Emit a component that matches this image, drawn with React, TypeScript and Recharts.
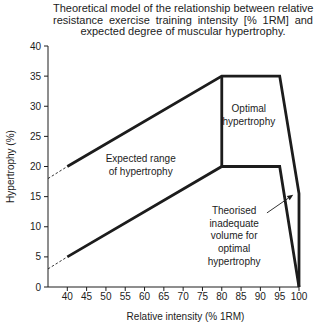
import React from 'react';
import { LineChart, Line, XAxis, YAxis, ReferenceLine, ReferenceDot } from 'recharts';

// relative intensity (% 1RM) / hypertrophy (%)
const lowerDashX = [35, 40];
const lowerDashY = [3, 5];
const lowerX = [40, 80, 95, 100];
const lowerY = [5, 20, 20, 0];
const upperDashX = [35, 40];
const upperDashY = [18, 20];
const upperX = [40, 80, 95, 100, 100];
const upperY = [20, 35, 35, 15.5, 0];
const dividerX = [80, 80];
const dividerY = [20, 35];

const xTicks = [40, 45, 50, 55, 60, 65, 70, 75, 80, 85, 90, 95, 100];
const yTicks = [0, 5, 10, 15, 20, 25, 30, 35, 40];

const titleLines = [
  'Theoretical model of the relationship between relative',
  'resistance exercise training intensity [% 1RM] and',
  'expected degree of muscular hypertrophy.',
];

const noteX = [59, 87, 83.2];
const noteY = [20.2, 28.6, 8.5];
const noteText = [
  ['Expected range', 'of hypertrophy'],
  ['Optimal', 'hypertrophy'],
  ['Theorised', 'inadequate', 'volume for', 'optimal', 'hypertrophy'],
];

const arrowX = [91.7, 98.5];
const arrowY = [12.3, 15.3];

const FONT = "'Liberation Sans', Arial, sans-serif";
const INK = '#1c1c1c';

const toPoints = (xs: number[], ys: number[]) => xs.map((x, i) => ({ x, y: ys[i] }));

const NoteLabel = ({ viewBox, lines }: any) => {
  const cx = viewBox.x;
  const cy = viewBox.y;
  const lh = 12.7;
  return (
    <g>
      {lines.map((t: string, i: number) => (
        <text
          key={i}
          x={cx}
          y={cy + (i - (lines.length - 1) / 2) * lh}
          textAnchor="middle"
          dominantBaseline="central"
          fontSize={10}
          fontFamily={FONT}
          fill={INK}
        >
          {t}
        </text>
      ))}
    </g>
  );
};

const ArrowShape = (props: any) => {
  const { x1, y1, x2, y2 } = props;
  const ang = Math.atan2(y2 - y1, x2 - x1);
  const len = 6;
  const w = 2.6;
  const bx = x2 - len * Math.cos(ang);
  const by = y2 - len * Math.sin(ang);
  const p1 = `${bx + w * Math.sin(ang)},${by - w * Math.cos(ang)}`;
  const p2 = `${bx - w * Math.sin(ang)},${by + w * Math.cos(ang)}`;
  return (
    <g>
      <line x1={x1} y1={y1} x2={bx} y2={by} stroke={INK} strokeWidth={0.9} />
      <polygon points={`${x2},${y2} ${p1} ${p2}`} fill={INK} />
    </g>
  );
};

const series = [
  { key: 'lowerDash', data: toPoints(lowerDashX, lowerDashY), dash: '2.5 2', width: 0.9 },
  { key: 'upperDash', data: toPoints(upperDashX, upperDashY), dash: '2.5 2', width: 0.9 },
  { key: 'lower', data: toPoints(lowerX, lowerY), dash: undefined, width: 2.8 },
  { key: 'upper', data: toPoints(upperX, upperY), dash: undefined, width: 2.8 },
  { key: 'divider', data: toPoints(dividerX, dividerY), dash: undefined, width: 2.8 },
];

const App: React.FC = () => {
  return (
    <div style={{ position: 'absolute', left: 0, top: 0, width: 324, height: 335, background: '#fff', fontFamily: FONT }}>
      <div style={{ position: 'absolute', left: 53, top: 3, width: 260, fontSize: 11, lineHeight: '11.6px', color: INK }}>
        {titleLines.map((t, i) => (
          <div key={i} style={{ whiteSpace: 'nowrap', textAlign: i < 2 ? 'justify' : 'center', textAlignLast: i < 2 ? 'justify' : 'center' } as any}>
            {t}
          </div>
        ))}
      </div>
      <LineChart width={324} height={335} margin={{ top: 46, right: 25, left: 0, bottom: 18 }}>
        <XAxis
          type="number"
          dataKey="x"
          domain={[35, 100]}
          ticks={xTicks}
          interval={0}
          height={30}
          tickSize={4}
          tickMargin={2}
          stroke={INK}
          tick={{ fill: INK, fontSize: 10, fontFamily: FONT }}
          label={{ value: 'Relative intensity (% 1RM)', position: 'insideBottom', offset: -3, dx: 12, fill: INK, fontSize: 10, fontFamily: FONT }}
        />
        <YAxis
          type="number"
          domain={[0, 40]}
          ticks={yTicks}
          interval={0}
          width={48}
          tickSize={4}
          tickMargin={3}
          stroke={INK}
          tick={{ fill: INK, fontSize: 10, fontFamily: FONT }}
          label={{ value: 'Hypertrophy (%)', angle: -90, position: 'insideLeft', offset: 10, fill: INK, fontSize: 10, fontFamily: FONT, style: { textAnchor: 'middle' } }}
        />
        {series.map((s) => (
          <Line
            key={s.key}
            data={s.data}
            dataKey="y"
            type="linear"
            stroke={INK}
            strokeWidth={s.width}
            strokeDasharray={s.dash}
            strokeLinejoin="miter"
            dot={false}
            activeDot={false}
            isAnimationActive={false}
          />
        ))}
        <ReferenceLine
          segment={toPoints(arrowX, arrowY)}
          shape={ArrowShape}
          ifOverflow="visible"
        />
        {noteText.map((lines, i) => (
          <ReferenceDot
            key={i}
            x={noteX[i]}
            y={noteY[i]}
            r={0}
            fill="none"
            stroke="none"
            ifOverflow="visible"
            label={(p: any) => <NoteLabel {...p} lines={lines} />}
          />
        ))}
      </LineChart>
    </div>
  );
};

export default App;
